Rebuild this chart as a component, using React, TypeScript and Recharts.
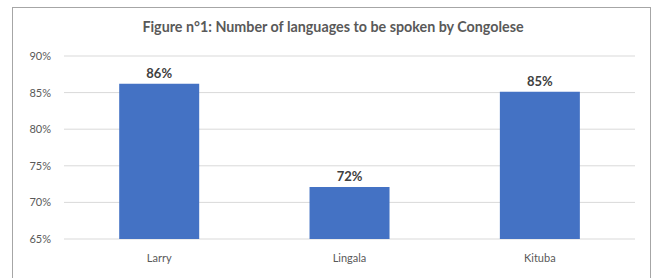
import React from 'react';
import { BarChart, Bar, XAxis, YAxis, CartesianGrid, LabelList } from 'recharts';

const categories = ['Larry', 'Lingala', 'Kituba'];
const values = [86.2, 72.1, 85.1];
const valueLabels = ['86%', '72%', '85%'];
const yTicks = [65, 70, 75, 80, 85, 90];
const title = 'Figure n°1: Number of languages to be spoken by Congolese';

const data = categories.map((c, i) => ({ name: c, value: values[i], label: valueLabels[i] }));

const FONT = 'Lato, "Open Sans", sans-serif';

export default function App() {
  return (
    <div style={{ position: 'absolute', left: 0, top: 0, width: 656, height: 278, background: '#fff', overflow: 'hidden', fontFamily: FONT }}>
      <div style={{ position: 'absolute', left: 12, top: 7, width: 639, height: 300, border: '1px solid #a6a6a6', boxSizing: 'border-box' }} />
      <div style={{ position: 'absolute', left: 12, width: 642, top: 18, textAlign: 'center', fontSize: 14.3, fontWeight: 700, color: '#595959', letterSpacing: 0 }}>
        {title}
      </div>
      <div style={{ position: 'absolute', left: 0, top: 0 }}>
        <BarChart width={656} height={278} data={data} margin={{ top: 56, right: 21, bottom: 9, left: 0 }} barCategoryGap="29%">
          <CartesianGrid vertical={false} stroke="#d9d9d9" />
          <XAxis dataKey="name" axisLine={false} tickLine={false} tickSize={0} tickMargin={15} height={30}
            tick={{ fontSize: 11, fill: '#595959', fontFamily: FONT }} />
          <YAxis domain={[65, 90]} ticks={yTicks} allowDataOverflow width={64} axisLine={false} tickLine={false} tickSize={0} tickMargin={13}
            tickFormatter={(v: number) => `${v}%`} tick={{ fontSize: 11, fill: '#595959', fontFamily: FONT }} />
          <Bar dataKey="value" fill="#4472c4" isAnimationActive={false}>
            <LabelList dataKey="label" position="top" offset={6} style={{ fontSize: 13, fill: '#404040', fontWeight: 700, fontFamily: FONT }} />
          </Bar>
        </BarChart>
      </div>
    </div>
  );
}
